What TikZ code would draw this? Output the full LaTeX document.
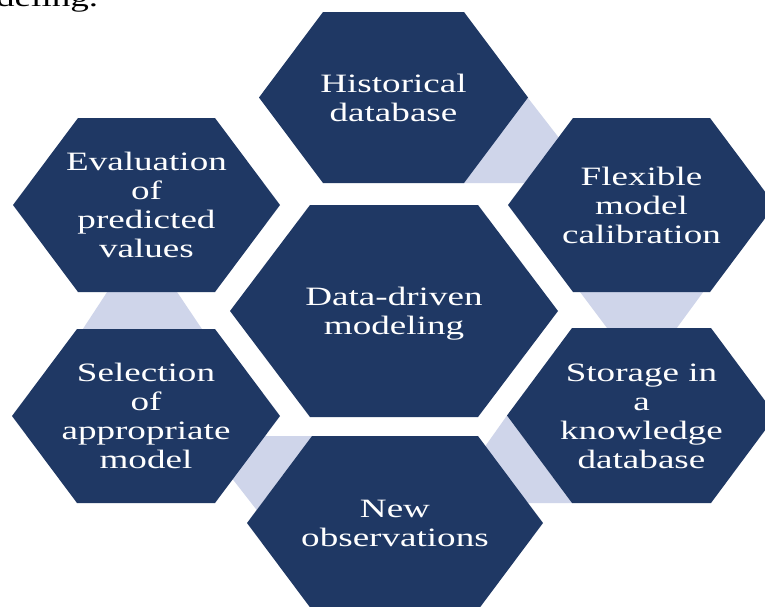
\documentclass[tikz,border=0pt]{standalone}
\usepackage{fontspec}
\setmainfont{Liberation Serif}
\usepackage{graphicx}

\definecolor{hexdark}{RGB}{31,56,100}
\definecolor{hexlight}{RGB}{207,213,234}

% flat-topped hexagon: centre (#1,#2), half top edge #3, half height #4, slant #5
\newcommand{\hexagonat}[5]{%
  \fill[hexdark] (#1,#2) ++({-(#3)-(#5)},0) -- ++(#5,#4) -- ++({2*(#3)},0)
    -- ++(#5,{-(#4)}) -- ++({-(#5)},{-(#4)}) -- ++({-2*(#3)},0) -- cycle;}

% wide, centred label text
\newcommand{\hexlines}[1]{\scalebox{1.4}[1]{\begin{tabular}{@{}c@{}}#1\end{tabular}}}

\tikzset{
  hexlabel/.style={text=white, inner sep=0pt, yshift=-3.5pt, font=\fontsize{26.5}{29}\selectfont},
  linkband/.style={fill=hexlight}
}

\begin{document}
\begin{tikzpicture}[x=1pt,y=1pt]
\useasboundingbox (0,0) rectangle (765,-606);
\clip (0,0) rectangle (765,-606);
\fill[white] (0,0) rectangle (765,-606);

% tail of the preceding caption line
\node[anchor=base west, inner sep=0pt, font=\fontsize{26.5}{29}\selectfont] (tail) at (-4,-6)
  {\scalebox{1.4}[1]{deling.}};

% light bands linking neighbouring hexagons
\fill[linkband] (440,-183) -- (528,-98) -- (594,-183) -- cycle;
\fill[linkband] (571,-280) -- (712,-280) -- (668,-340) -- (616,-340) -- cycle;
\fill[linkband] (507,-415.5) -- (445,-503) -- (572,-503) -- cycle;
\fill[linkband] (199,-436) -- (312,-436) -- (256.7,-510) -- cycle;
\fill[linkband] (115,-280) -- (169,-280) -- (210,-341) -- (75,-341) -- cycle;

% hexagons
\hexagonat{393.5}{-97.5}{70.5}{85.5}{64}
\hexagonat{641.5}{-205}{68.5}{87}{65}
\hexagonat{641.5}{-415.5}{69.5}{87.5}{65}
\hexagonat{395}{-523}{83}{87}{65}
\hexagonat{146}{-416}{69}{87}{65}
\hexagonat{146.5}{-205}{68.5}{87}{65}
\hexagonat{394}{-311}{84}{106}{80}

% labels
\node[hexlabel] (hist)  at (393.5,-97.5) {\hexlines{Historical\\database}};
\node[hexlabel] (flex)  at (641.5,-205)  {\hexlines{Flexible\\model\\calibration}};
\node[hexlabel] (store) at (641.5,-415.5) {\hexlines{Storage in\\a\\knowledge\\database}};
\node[hexlabel] (obs)   at (395,-523)    {\hexlines{New\\observations}};
\node[hexlabel] (sel)   at (146,-416)    {\hexlines{Selection\\of\\appropriate\\model}};
\node[hexlabel] (eval)  at (146.5,-205)  {\hexlines{Evaluation\\of\\predicted\\values}};
\node[hexlabel] (core)  at (394,-311)    {\hexlines{Data-driven\\modeling}};
\end{tikzpicture}
\end{document}
